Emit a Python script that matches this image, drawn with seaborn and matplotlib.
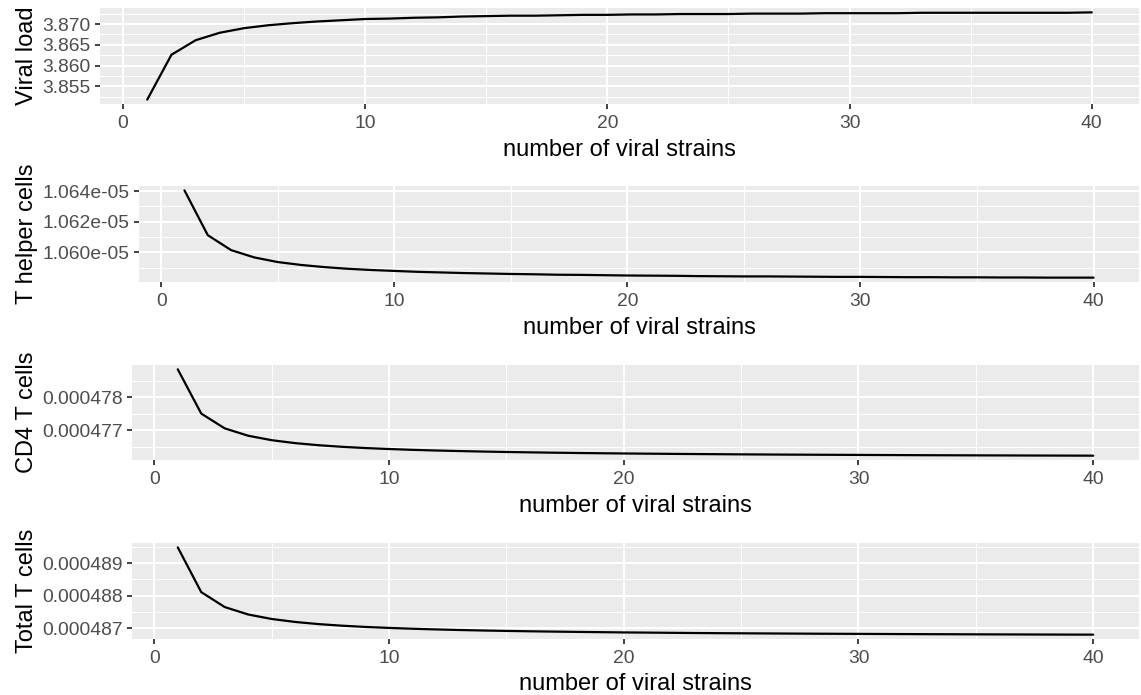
import matplotlib
matplotlib.use("Agg")
import matplotlib.pyplot as plt
from matplotlib.ticker import FixedLocator, FuncFormatter
import seaborn as sns
import pandas as pd

# ---- data ----
strains = list(range(1, 41))

viral_load = [3.8518, 3.8626, 3.8661, 3.8679, 3.8690, 3.8697, 3.8702, 3.8706, 3.8709, 3.8712,
              3.8713, 3.8715, 3.8716, 3.8718, 3.8719, 3.8720, 3.8720, 3.8721, 3.8722, 3.8722,
              3.8723, 3.8723, 3.8724, 3.8724, 3.8724, 3.8725, 3.8725, 3.8725, 3.8726, 3.8726,
              3.8726, 3.8726, 3.8727, 3.8727, 3.8727, 3.8727, 3.8727, 3.8727, 3.8727, 3.8728]

t_helper = [1.06405e-05, 1.06112e-05, 1.06014e-05, 1.05966e-05, 1.05936e-05, 1.05917e-05,
            1.05903e-05, 1.05892e-05, 1.05884e-05, 1.05878e-05, 1.05872e-05, 1.05868e-05,
            1.05864e-05, 1.05861e-05, 1.05858e-05, 1.05856e-05, 1.05853e-05, 1.05852e-05,
            1.05850e-05, 1.05848e-05, 1.05847e-05, 1.05846e-05, 1.05844e-05, 1.05843e-05,
            1.05842e-05, 1.05842e-05, 1.05841e-05, 1.05840e-05, 1.05839e-05, 1.05839e-05,
            1.05838e-05, 1.05837e-05, 1.05837e-05, 1.05836e-05, 1.05836e-05, 1.05835e-05,
            1.05835e-05, 1.05834e-05, 1.05834e-05, 1.05834e-05]

cd4_t = [0.000478853, 0.000477510, 0.000477062, 0.000476839, 0.000476704, 0.000476615,
         0.000476551, 0.000476503, 0.000476465, 0.000476436, 0.000476411, 0.000476391,
         0.000476374, 0.000476359, 0.000476346, 0.000476335, 0.000476325, 0.000476316,
         0.000476308, 0.000476301, 0.000476295, 0.000476289, 0.000476284, 0.000476279,
         0.000476274, 0.000476270, 0.000476266, 0.000476263, 0.000476260, 0.000476257,
         0.000476254, 0.000476251, 0.000476248, 0.000476246, 0.000476244, 0.000476242,
         0.000476240, 0.000476238, 0.000476236, 0.000476234]

total_t = [0.000489485, 0.000488112, 0.000487654, 0.000487426, 0.000487288, 0.000487197,
           0.000487131, 0.000487082, 0.000487044, 0.000487014, 0.000486989, 0.000486968,
           0.000486950, 0.000486935, 0.000486922, 0.000486911, 0.000486901, 0.000486892,
           0.000486884, 0.000486876, 0.000486870, 0.000486864, 0.000486858, 0.000486853,
           0.000486849, 0.000486845, 0.000486841, 0.000486837, 0.000486834, 0.000486831,
           0.000486828, 0.000486825, 0.000486822, 0.000486820, 0.000486817, 0.000486815,
           0.000486813, 0.000486811, 0.000486809, 0.000486808]

x_ticks = [0, 10, 20, 30, 40]
x_minor = [5, 15, 25, 35]

viral_ticks = [3.855, 3.860, 3.865, 3.870]
viral_minor = [3.8525, 3.8575, 3.8625, 3.8675, 3.8725]
helper_ticks = [1.060e-05, 1.062e-05, 1.064e-05]
helper_minor = [1.059e-05, 1.061e-05, 1.063e-05]
cd4_ticks = [0.000477, 0.000478]
cd4_minor = [0.0004765, 0.0004775, 0.0004785]
total_ticks = [0.000487, 0.000488, 0.000489]
total_minor = [0.0004875, 0.0004885, 0.0004895]

x_title = "number of viral strains"
y_titles = ["Viral load", "T helper cells", "CD4 T cells", "Total T cells"]

# ---- styling ----
sns.set_theme(style="darkgrid")
plt.rcParams.update({
    "axes.facecolor": "#EBEBEB",
    "figure.facecolor": "white",
    "grid.color": "white",
    "axes.edgecolor": "none",
})
plt.rcParams["font.family"] = ["Liberation Sans", "DejaVu Sans"]

W, H = 1141, 695
fig = plt.figure(figsize=(W / 100, H / 100), dpi=100)


def rect(l, t, r, b):
    return [l / W, 1 - b / H, (r - l) / W, (b - t) / H]


panels = [
    (rect(100, 8, 1139, 104), viral_load, viral_ticks, viral_minor, lambda v, p: f"{v:.3f}"),
    (rect(139, 186, 1139, 282), t_helper, helper_ticks, helper_minor, lambda v, p: f"{v:.3e}"),
    (rect(132, 365, 1139, 460), cd4_t, cd4_ticks, cd4_minor, lambda v, p: f"{v:.6f}"),
    (rect(132, 543, 1139, 639), total_t, total_ticks, total_minor, lambda v, p: f"{v:.6f}"),
]

for (r, vals, yt, ym, fmt), ytitle in zip(panels, y_titles):
    ax = fig.add_axes(r)
    df = pd.DataFrame({"strains": strains, "value": vals})
    sns.lineplot(data=df, x="strains", y="value", ax=ax, color="black", linewidth=1.6)
    ax.set_xlim(1 - 0.05 * 39, 40 + 0.05 * 39)
    lo, hi = min(vals), max(vals)
    pad = 0.05 * (hi - lo)
    ax.set_ylim(lo - pad, hi + pad)
    ax.xaxis.set_major_locator(FixedLocator(x_ticks))
    ax.xaxis.set_minor_locator(FixedLocator(x_minor))
    ax.yaxis.set_major_locator(FixedLocator(yt))
    ax.yaxis.set_minor_locator(FixedLocator(ym))
    ax.yaxis.set_major_formatter(FuncFormatter(fmt))
    ax.xaxis.set_major_formatter(FuncFormatter(lambda v, p: f"{int(v)}"))
    ax.grid(which="major", color="white", linewidth=1.5)
    ax.grid(which="minor", color="white", linewidth=0.75)
    ax.set_axisbelow(True)
    for s in ax.spines.values():
        s.set_visible(False)
    ax.tick_params(which="major", length=3.6, width=1.3, color="#333333",
                   labelcolor="#4D4D4D", labelsize=13.9, pad=3.2,
                   bottom=True, left=True)
    ax.tick_params(axis="x", which="major", pad=4.6)
    ax.tick_params(which="minor", length=0)
    ax.set_xlabel(x_title, fontsize=17, color="black", labelpad=4.4)
    ax.set_ylabel(ytitle, fontsize=17, color="black", labelpad=3)

fig.savefig("out.png", dpi=100)
